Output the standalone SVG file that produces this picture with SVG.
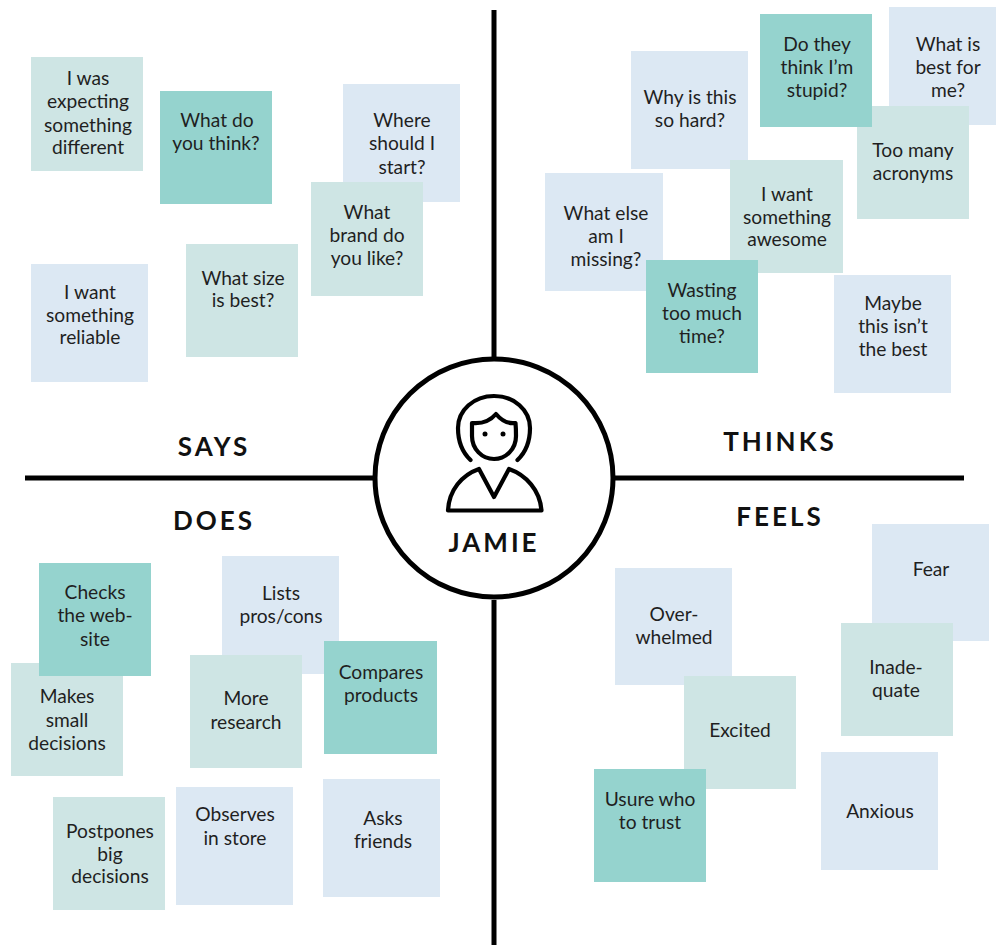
<svg xmlns="http://www.w3.org/2000/svg" width="996" height="945" viewBox="0 0 996 945">
<style>
text{font-family:Lato,"Noto Sans",sans-serif;text-anchor:middle;fill:#1f1f1f}
.n text{font-size:19.2px}
.b{fill:#dce8f3}.g{fill:#cee5e4}.t{fill:#95d3ce}
.h{font-size:26px;font-weight:700;letter-spacing:3px;fill:#111}
.l{stroke:#000;stroke-width:5;fill:none;stroke-linejoin:round}
.i{stroke:#000;stroke-width:4.200;fill:none;stroke-linecap:round;stroke-linejoin:round}
</style>
<rect width="996" height="945" fill="#fff"/>
<g id="connectors"><path class="l" d="M494 10V358M494 600V945M25 478H373M615 478H964"/></g>
<g id="center">
<circle class="l" cx="494" cy="478" r="119" fill="#fff"/>
<path class="i" d="M470.500 460C461 451 458 439 458 428C458 410 474 396 494 396C514 396 530 410 530 428C530 439 527 451 517.500 460"/>
<path class="i" d="M472 423C482 424 490 421 496 414C501 420 508 424 515.500 423C516 428 516 433 516 436C516 449 506 459 494 459C482 459 472 449 472 436Z"/>
<circle cx="485" cy="434" r="2.500"/><circle cx="503" cy="434" r="2.500"/>
<path class="i" d="M448 510.500C449 490 462 475 479 469L494 497L509 469C526 475 540 490 541.500 510.500Z"/>
<text class="h" x="494" y="552">JAMIE</text>
</g>
<g id="says-label"><text class="h" x="214" y="456">SAYS</text></g>
<g id="thinks-label"><text class="h" x="780" y="451">THINKS</text></g>
<g id="does-label"><text class="h" x="214" y="530">DOES</text></g>
<g id="feels-label"><text class="h" x="780" y="526">FEELS</text></g>

<g id="s1" class="n"><rect class="g" x="31" y="57" width="112" height="114"/><text x="88" y="85">I was</text><text x="88" y="108">expecting</text><text x="88" y="132">something</text><text x="88" y="154">different</text></g>
<g id="s2" class="n"><rect class="t" x="160" y="91" width="112" height="113"/><text x="217" y="127">What do</text><text x="216" y="150">you think?</text></g>
<g id="s3" class="n"><rect class="b" x="343" y="84" width="117" height="118"/><text x="402" y="127">Where</text><text x="402" y="150">should I</text><text x="402" y="174">start?</text></g>
<g id="s4" class="n"><rect class="g" x="311" y="182" width="112" height="114"/><text x="367" y="219">What</text><text x="367" y="242">brand do</text><text x="367" y="265">you like?</text></g>
<g id="s5" class="n"><rect class="b" x="31" y="264" width="117" height="118"/><text x="90" y="299">I want</text><text x="90" y="322">something</text><text x="90" y="344">reliable</text></g>
<g id="s6" class="n"><rect class="g" x="186" y="244" width="112" height="113"/><text x="243" y="285">What size</text><text x="243" y="307">is best?</text></g>

<g id="t1" class="n"><rect class="b" x="631" y="51" width="117" height="118"/><text x="690" y="104">Why is this</text><text x="690" y="127">so hard?</text></g>
<g id="t2" class="n"><rect class="b" x="889" y="7" width="117" height="118"/><text x="948" y="51">What is</text><text x="948" y="74">best for</text><text x="948" y="97">me?</text></g>
<g id="t3" class="n"><rect class="g" x="857" y="106" width="112" height="113"/><text x="913" y="157">Too many</text><text x="913" y="180">acronyms</text></g>
<g id="t4" class="n"><rect class="t" x="760" y="14" width="112" height="113"/><text x="817" y="51">Do they</text><text x="817" y="74">think I’m</text><text x="817" y="97">stupid?</text></g>
<g id="t5" class="n"><rect class="b" x="545" y="173" width="118" height="118"/><text x="606" y="220">What else</text><text x="606" y="243">am I</text><text x="606" y="266">missing?</text></g>
<g id="t6" class="n"><rect class="g" x="730" y="160" width="113" height="113"/><text x="787" y="201">I want</text><text x="787" y="224">something</text><text x="787" y="246">awesome</text></g>
<g id="t7" class="n"><rect class="t" x="646" y="260" width="112" height="113"/><text x="702" y="297">Wasting</text><text x="702" y="320">too much</text><text x="702" y="343">time?</text></g>
<g id="t8" class="n"><rect class="b" x="834" y="275" width="117" height="118"/><text x="893" y="310">Maybe</text><text x="893" y="333">this isn’t</text><text x="893" y="356">the best</text></g>

<g id="d1" class="n"><rect class="g" x="11" y="663" width="112" height="113"/><text x="67" y="703">Makes</text><text x="67" y="727">small</text><text x="67" y="750">decisions</text></g>
<g id="d2" class="n"><rect class="t" x="39" y="563" width="112" height="113"/><text x="95" y="599">Checks</text><text x="95" y="622">the web-</text><text x="95" y="646">site</text></g>
<g id="d3" class="n"><rect class="b" x="222" y="556" width="117" height="118"/><text x="281" y="600">Lists</text><text x="281" y="623">pros/cons</text></g>
<g id="d4" class="n"><rect class="g" x="190" y="655" width="112" height="113"/><text x="246" y="705">More</text><text x="246" y="729">research</text></g>
<g id="d5" class="n"><rect class="t" x="324" y="641" width="113" height="113"/><text x="381" y="679">Compares</text><text x="381" y="702">products</text></g>
<g id="d6" class="n"><rect class="g" x="53" y="797" width="112" height="113"/><text x="110" y="838">Postpones</text><text x="110" y="861">big</text><text x="110" y="883">decisions</text></g>
<g id="d7" class="n"><rect class="b" x="176" y="787" width="117" height="118"/><text x="235" y="821">Observes</text><text x="235" y="845">in store</text></g>
<g id="d8" class="n"><rect class="b" x="323" y="779" width="117" height="118"/><text x="383" y="825">Asks</text><text x="383" y="848">friends</text></g>

<g id="f1" class="n"><rect class="b" x="872" y="524" width="117" height="117"/><text x="931" y="576">Fear</text></g>
<g id="f2" class="n"><rect class="g" x="841" y="623" width="112" height="113"/><text x="896" y="674">Inade-</text><text x="896" y="697">quate</text></g>
<g id="f3" class="n"><rect class="b" x="615" y="568" width="117" height="117"/><text x="674" y="621">Over-</text><text x="674" y="644">whelmed</text></g>
<g id="f4" class="n"><rect class="g" x="684" y="676" width="112" height="113"/><text x="740" y="737">Excited</text></g>
<g id="f5" class="n"><rect class="t" x="594" y="769" width="112" height="113"/><text x="650" y="806">Usure who</text><text x="650" y="829">to trust</text></g>
<g id="f6" class="n"><rect class="b" x="821" y="752" width="117" height="118"/><text x="880" y="818">Anxious</text></g>
</svg>
